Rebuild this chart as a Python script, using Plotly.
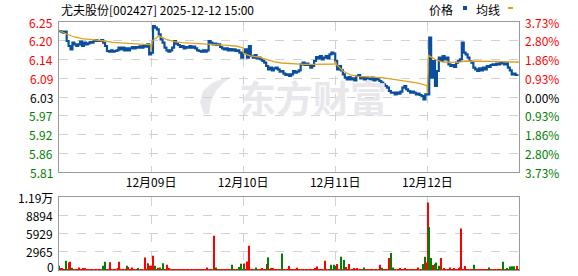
import plotly.graph_objects as go

# ---------------- data ----------------
title_text = "尤夫股份[002427] 2025-12-12 15:00"
day_labels = ["12月09日", "12月10日", "12月11日", "12月12日"]
minutes_per_day = 240

# price sampled every 5 minutes, per trading day
price_d1 = [6.230, 6.228, 6.225, 6.228, 6.200, 6.185, 6.175, 6.195, 6.190, 6.185,
            6.190, 6.198, 6.185, 6.195, 6.190, 6.193, 6.197, 6.195, 6.200, 6.203,
            6.200, 6.200, 6.203, 6.195, 6.185, 6.170, 6.168, 6.172, 6.168, 6.170,
            6.172, 6.180, 6.175, 6.180, 6.172, 6.178, 6.172, 6.178, 6.182, 6.178,
            6.182, 6.180, 6.184, 6.180, 6.185, 6.183, 6.190, 6.160]
price_d2 = [6.165, 6.245, 6.240, 6.235, 6.220, 6.205, 6.195, 6.180, 6.172, 6.168,
            6.172, 6.180, 6.200, 6.192, 6.188, 6.182, 6.185, 6.178, 6.182, 6.180,
            6.185, 6.180, 6.183, 6.178, 6.172, 6.170, 6.168, 6.172, 6.168, 6.172,
            6.200, 6.195, 6.190, 6.192, 6.188, 6.190, 6.182, 6.178, 6.175, 6.178,
            6.172, 6.176, 6.172, 6.175, 6.170, 6.172, 6.165, 6.150]
price_d3 = [6.165, 6.175, 6.150, 6.185, 6.155, 6.150, 6.158, 6.148, 6.150, 6.145,
            6.140, 6.135, 6.125, 6.115, 6.120, 6.112, 6.118, 6.120, 6.115, 6.108,
            6.110, 6.102, 6.098, 6.100, 6.095, 6.100, 6.110, 6.105, 6.108, 6.112,
            6.130, 6.135, 6.128, 6.132, 6.128, 6.120, 6.125, 6.140, 6.152, 6.148,
            6.155, 6.145, 6.150, 6.155, 6.148, 6.160, 6.165, 6.162]
price_d4 = [6.140, 6.115, 6.125, 6.112, 6.100, 6.090, 6.085, 6.092, 6.085, 6.088,
            6.082, 6.095, 6.098, 6.088, 6.092, 6.085, 6.090, 6.088, 6.085, 6.090,
            6.082, 6.088, 6.085, 6.080, 6.075, 6.070, 6.065, 6.060, 6.050, 6.045,
            6.045, 6.040, 6.045, 6.042, 6.048, 6.060, 6.065, 6.055, 6.050, 6.045,
            6.048, 6.045, 6.040, 6.042, 6.038, 6.035, 6.025, 6.040]
price_d5 = [6.040, 6.210, 6.090, 6.140, 6.065, 6.110, 6.150, 6.140, 6.155, 6.145,
            6.150, 6.130, 6.125, 6.128, 6.122, 6.135, 6.140, 6.145, 6.195, 6.165,
            6.160, 6.150, 6.140, 6.135, 6.120, 6.115, 6.110, 6.118, 6.112, 6.120,
            6.115, 6.125, 6.122, 6.128, 6.130, 6.128, 6.132, 6.130, 6.135, 6.133,
            6.130, 6.133, 6.120, 6.112, 6.100, 6.102, 6.098, 6.100]

# average-price line, sampled at these minutes of each day
avg_minutes = [0, 3, 20, 40, 60, 80, 100, 120, 140, 160, 180, 200, 220, 239]
avg_d1 = [6.233, 6.230, 6.221, 6.212, 6.207, 6.205, 6.204, 6.200, 6.196, 6.194, 6.193, 6.191, 6.190, 6.189]
avg_d2 = [6.170, 6.200, 6.215, 6.205, 6.198, 6.195, 6.194, 6.193, 6.191, 6.190, 6.189, 6.187, 6.185, 6.180]
avg_d3 = [6.165, 6.162, 6.155, 6.152, 6.145, 6.138, 6.134, 6.132, 6.131, 6.130, 6.130, 6.130, 6.131, 6.131]
avg_d4 = [6.140, 6.130, 6.110, 6.098, 6.094, 6.093, 6.092, 6.090, 6.087, 6.084, 6.081, 6.077, 6.073, 6.066]
avg_d5 = [6.045, 6.157, 6.145, 6.137, 6.136, 6.136, 6.140, 6.140, 6.139, 6.138, 6.138, 6.138, 6.137, 6.137]

# price axis ticks
price_ticks = [6.257, 6.201, 6.145, 6.088, 6.032, 5.976, 5.920, 5.863, 5.807]
price_labels = ["6.25", "6.20", "6.14", "6.09", "6.03", "5.97", "5.92", "5.86", "5.81"]
pct_labels = ["3.73%", "2.80%", "1.86%", "0.93%", "0.00%", "0.93%", "1.86%", "2.80%", "3.73%"]
label_side = ["up", "up", "up", "up", "flat", "down", "down", "down", "down"]

# notable volume bars: minute index (over 5 days), volume, direction
vol_minute = [1, 7, 18, 25, 29, 35, 52, 115, 120, 133, 157, 177, 179, 190, 206, 225, 233, 237,
              241, 246, 250, 258, 263, 272, 281, 385, 403, 409, 452, 470, 475, 481, 483, 491,
              496, 514, 529, 542, 546, 555, 581, 599, 620, 668, 672, 694, 710, 716, 722, 726,
              736, 744, 749, 757, 768, 777, 796, 836, 842, 859, 866, 871, 890, 903, 936, 948,
              953, 957, 962, 964, 966, 970, 975, 979, 984, 990, 996, 1003, 1018, 1029, 1042,
              1046, 1048, 1059, 1081, 1120, 1158, 1169, 1175, 1182, 1187, 1195]
vol_value = [700, 300, 1500, 1200, 1350, 350, 400, 700, 1350, 1250, 1350, 700, 500, 400, 300, 2050,
             1100, 700, 700, 2300, 700, 350, 400, 1100, 850, 400, 5560, 400, 850, 500, 1000, 1050,
             500, 1400, 3950, 400, 300, 970, 2050, 300, 2700, 650, 350, 300, 550, 1500, 850, 850,
             700, 970, 2150, 1620, 500, 970, 300, 300, 400, 850, 350, 1950, 2750, 400, 250, 250,
             400, 970, 2150, 1200, 10970, 7000, 1500, 1950, 800, 1000, 1200, 700, 1950, 300, 400,
             300, 300, 450, 6750, 650, 850, 400, 1350, 300, 550, 600, 600, 650]
vol_up = ["G", "R", "G", "R", "R", "G", "R", "G", "G", "R", "R", "G", "R", "R", "G", "R",
          "R", "G", "R", "R", "G", "R", "G", "G", "R", "R", "R", "G", "G", "G", "G", "R",
          "G", "R", "R", "G", "R", "R", "G", "R", "G", "R", "R", "R", "R", "R", "G", "G",
          "G", "R", "G", "G", "R", "R", "R", "R", "G", "R", "G", "R", "G", "G", "R", "R",
          "R", "G", "G", "R", "R", "G", "G", "G", "R", "G", "G", "G", "R", "R", "R",
          "R", "R", "R", "R", "R", "G", "G", "G", "G", "G", "G", "G", "R"]

# background (small) volume per 10-minute bin
base_vol = [
    180, 150, 120, 160, 140, 130, 170, 150, 120, 140, 160, 130, 150, 140, 120, 170, 130, 150, 140, 160, 150, 130, 120, 140,
    160, 150, 140, 130, 170, 120, 150, 140, 130, 160, 150, 120, 140, 130, 150, 160, 140, 120, 130, 150, 140, 160, 130, 150,
    150, 140, 160, 130, 120, 150, 140, 170, 130, 120, 150, 140, 160, 130, 150, 140, 120, 160, 150, 130, 140, 150, 120, 160,
    140, 160, 150, 130, 140, 120, 150, 160, 130, 140, 150, 120, 160, 140, 130, 150, 140, 120, 160, 150, 130, 140, 150, 130,
    170, 150, 160, 140, 130, 150, 120, 140, 160, 130, 150, 140, 120, 150, 160, 130, 140, 150, 120, 140, 160, 150, 130, 150,
]

vol_ticks = [0, 2965, 5929, 8894, 11859]
vol_labels = ["0", "2965", "5929", "8894", "1.19万"]

# ---------------- build ----------------
RED = "#ff0000"
GREEN = "#008000"
BLUE = "#0a4f9e"
GOLD = "#dca21f"
FONT = "Noto Sans CJK SC, Liberation Sans, sans-serif"

price_days = [price_d1, price_d2, price_d3, price_d4, price_d5]
avg_days = [avg_d1, avg_d2, avg_d3, avg_d4, avg_d5]

px_x, px_y = [], []
for d, arr in enumerate(price_days):
    step = minutes_per_day / len(arr)
    for i, v in enumerate(arr):
        px_x.append(d * minutes_per_day + i * step)
        px_y.append(v)

av_x, av_y = [], []
for d, arr in enumerate(avg_days):
    for m, v in zip(avg_minutes, arr):
        av_x.append(d * minutes_per_day + m)
        av_y.append(v)

color_of = {"up": RED, "down": GREEN, "flat": "#000000"}
base_x = [j * 10 + 5 for j in range(len(base_vol))]

fig = go.Figure()
fig.add_trace(go.Scatter(x=px_x, y=px_y, mode="lines", line=dict(color=BLUE, width=2.2, shape="hv"),
                         xaxis="x", yaxis="y", hoverinfo="skip"))
fig.add_trace(go.Scatter(x=av_x, y=av_y, mode="lines", line=dict(color=GOLD, width=1.3),
                         xaxis="x", yaxis="y", hoverinfo="skip"))
fig.add_trace(go.Bar(x=base_x, y=base_vol, width=10, marker=dict(color=RED, line=dict(width=0)),
                     xaxis="x2", yaxis="y2", hoverinfo="skip"))
fig.add_trace(go.Bar(x=vol_minute, y=vol_value, width=2.8,
                     marker=dict(color=[RED if u == "R" else GREEN for u in vol_up], line=dict(width=0)),
                     xaxis="x2", yaxis="y2", hoverinfo="skip"))

W, H = 578, 276
x0, x1 = 59 / W, 519 / W
p_top, p_bot = 22, 172
v_top, v_bot = 197, 270
xr = [0, minutes_per_day * 5 - 1]
grid_vals = [minutes_per_day * k for k in range(1, 5)]
axis_common = dict(showline=True, linecolor="#9a9a9a", linewidth=1, mirror=True,
                   gridcolor="#d2d2d2", griddash="dash", gridwidth=1, zeroline=False,
                   tickfont=dict(family=FONT, size=12, color="#000000"))

fig.update_layout(
    width=W, height=H, margin=dict(l=0, r=0, t=0, b=0),
    paper_bgcolor="white", plot_bgcolor="white", showlegend=False,
    barmode="overlay", font=dict(family=FONT, size=12, color="#000000"),
    xaxis=dict(domain=[x0, x1], range=xr, tickvals=grid_vals, ticktext=day_labels,
               showgrid=True, ticks="", anchor="y", **axis_common),
    yaxis=dict(domain=[1 - p_bot / H, 1 - p_top / H], range=[price_ticks[-1], price_ticks[0]],
               tickvals=price_ticks, showticklabels=False, showgrid=True, ticks="", anchor="x",
               **axis_common),
    xaxis2=dict(domain=[x0, x1], range=xr, tickvals=grid_vals, showticklabels=False,
                showgrid=True, ticks="", anchor="y2", **axis_common),
    yaxis2=dict(domain=[1 - v_bot / H, 1 - v_top / H], range=[0, vol_ticks[-1]],
                tickvals=vol_ticks, showticklabels=False, showgrid=True, ticks="", anchor="x2",
                **axis_common),
)

# axis labels placed via the axes' own scales
for v, t, s in zip(price_ticks, price_labels, label_side):
    fig.add_annotation(x=55 / W, xref="paper", y=v, yref="y", text=t, showarrow=False,
                       xanchor="right", yanchor="middle",
                       font=dict(family=FONT, size=12, color=color_of[s]))
for v, t, s in zip(price_ticks, pct_labels, label_side):
    fig.add_annotation(x=523 / W, xref="paper", y=v, yref="y", text=t, showarrow=False,
                       xanchor="left", yanchor="middle",
                       font=dict(family=FONT, size=12, color=color_of[s]))
for v, t in zip(vol_ticks, vol_labels):
    if v == 0:
        # keep the bottom label's box inside the page
        fig.add_annotation(x=55 / W, xref="paper", y=v, yref="y2", text=t, showarrow=False,
                           xanchor="right", yanchor="bottom", yshift=-6, borderpad=0,
                           font=dict(family=FONT, size=12, color="#000000"))
    else:
        fig.add_annotation(x=55 / W, xref="paper", y=v, yref="y2", text=t, showarrow=False,
                           xanchor="right", yanchor="middle",
                           font=dict(family=FONT, size=12, color="#000000"))

# header text
fig.add_annotation(x=x0, y=1 - 9 / H, xref="paper", yref="paper", text=title_text,
                   showarrow=False, xanchor="left", yanchor="middle",
                   font=dict(family=FONT, size=12, color="#000000"))
fig.add_annotation(x=455 / W, y=1 - 9 / H, xref="paper", yref="paper", text="价格",
                   showarrow=False, xanchor="right", yanchor="middle",
                   font=dict(family=FONT, size=12, color="#000000"))
fig.add_annotation(x=502 / W, y=1 - 9 / H, xref="paper", yref="paper", text="均线",
                   showarrow=False, xanchor="right", yanchor="middle",
                   font=dict(family=FONT, size=12, color="#000000"))
fig.add_shape(type="rect", xref="paper", yref="paper", x0=463 / W, x1=467 / W,
              y0=1 - 10 / H, y1=1 - 6 / H, fillcolor=BLUE, line=dict(width=0))
fig.add_shape(type="rect", xref="paper", yref="paper", x0=508 / W, x1=513 / W,
              y0=1 - 9 / H, y1=1 - 7 / H, fillcolor=GOLD, line=dict(width=0))

# watermark (logo + text)
logo_pts = [(204, 114), (200, 102), (203, 91), (212, 83), (224, 78), (231, 77),
            (223, 83), (216, 91), (211, 101), (209, 114)]
path = "M " + " L ".join(f"{px / W:.5f},{1 - py / H:.5f}" for px, py in logo_pts) + " Z"
fig.add_shape(type="path", xref="paper", yref="paper", path=path,
              fillcolor="#e8e8ec", line=dict(width=0), layer="below")
fig.add_annotation(x=313 / W, y=1 - 97 / H, xref="paper", yref="paper", text="<b>东方财富</b>",
                   showarrow=False, xanchor="center", yanchor="middle",
                   font=dict(family=FONT, size=37, color="#e8e8ec"))

fig.write_html("out.html")
